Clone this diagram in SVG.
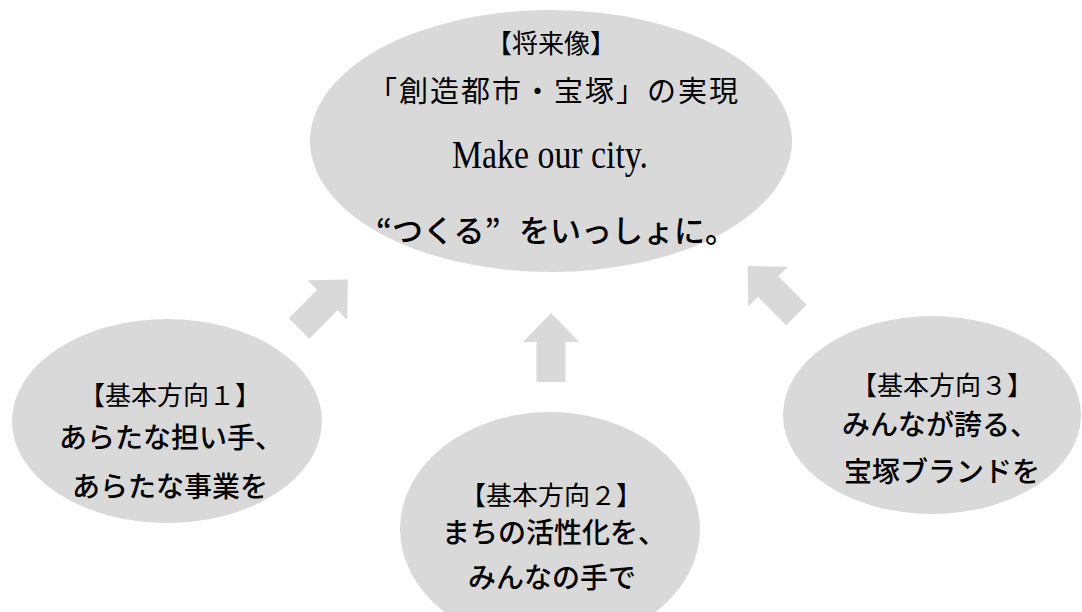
<svg xmlns="http://www.w3.org/2000/svg" width="1082" height="612" viewBox="0 0 1082 612">
<style>
.bg{fill:#ffffff}
.node{fill:#d9d9d9}
.arrow{fill:#d9d9d9}
.hd{font-family:"Noto Sans CJK JP",sans-serif;font-size:26px;fill:#000;text-anchor:middle}
.mc{font-family:"Noto Sans CJK JP",serif;font-size:28px;font-weight:500;fill:#000}
.en{font-family:"Liberation Serif",serif;font-size:40px;fill:#000}
</style>
<rect class="bg" x="0" y="0" width="1082" height="612"/>
<g id="connectors">
  <path class="arrow" transform="translate(323.5,304) rotate(45)" d="M0,-34.5 L28,-5.5 L14.5,-5.5 L14.5,34.5 L-14.5,34.5 L-14.5,-5.5 L-28,-5.5 Z"/>
  <path class="arrow" transform="translate(551,347.5)" d="M0,-34.5 L28,-5.5 L14.5,-5.5 L14.5,34.5 L-14.5,34.5 L-14.5,-5.5 L-28,-5.5 Z"/>
  <path class="arrow" transform="translate(772,290.5) rotate(-45)" d="M0,-34.5 L28,-5.5 L14.5,-5.5 L14.5,34.5 L-14.5,34.5 L-14.5,-5.5 L-28,-5.5 Z"/>
</g>
<g id="vision">
  <ellipse class="node" cx="551" cy="141" rx="241" ry="131"/>
  <text class="hd" x="551" y="53">【将来像】</text>
  <text class="hd" x="554" y="102" style="font-size:29px;letter-spacing:2px">「創造都市・宝塚」の実現</text>
  <text class="en" x="452" y="168" textLength="196" lengthAdjust="spacingAndGlyphs">Make our city.</text>
  <text class="mc" x="376" y="242" style="font-size:31px">“つくる”<tspan x="519">をいっしょに。</tspan></text>
</g>
<g id="direction1">
  <ellipse class="node" cx="167" cy="421" rx="155" ry="102"/>
  <text class="hd" x="170" y="405">【基本方向１】</text>
  <text class="mc" x="59" y="448">あらたな担い手、</text>
  <text class="mc" x="72" y="497">あらたな事業を</text>
</g>
<g id="direction2">
  <ellipse class="node" cx="550" cy="529" rx="150" ry="117"/>
  <text class="hd" x="551" y="505">【基本方向２】</text>
  <text class="mc" x="442" y="543">まちの活性化を、</text>
  <text class="mc" x="468" y="588">みんなの手で</text>
</g>
<g id="direction3">
  <ellipse class="node" cx="932" cy="415" rx="149" ry="99"/>
  <text class="hd" x="942" y="395">【基本方向３】</text>
  <text class="mc" x="842" y="435">みんなが誇る、</text>
  <text class="mc" x="844" y="482">宝塚ブランドを</text>
</g>
</svg>
